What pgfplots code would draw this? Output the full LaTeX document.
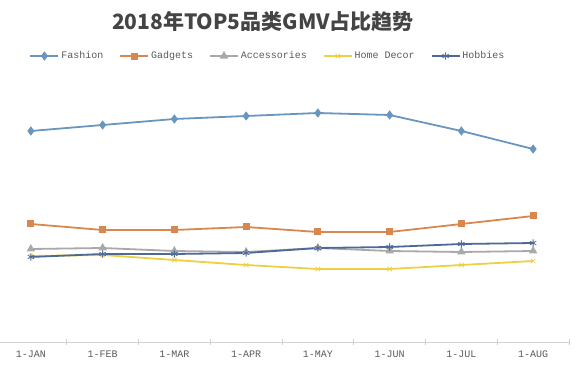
\documentclass[border=0pt]{standalone}
\usepackage{fontspec}
\setmainfont{Liberation Sans}
\newfontfamily\cjk{Noto Sans CJK SC}
\newfontfamily\mono{Liberation Mono}
\usepackage{pgfplots}
\pgfplotsset{compat=1.18}
\definecolor{cFash}{HTML}{6A96BE}
\definecolor{cGadg}{HTML}{D8874E}
\definecolor{cAcc}{HTML}{A9A9A9}
\definecolor{cHome}{HTML}{EDD043}
\definecolor{cHob}{HTML}{4C6A96}
\definecolor{cTxt}{HTML}{5A5A5A}
\definecolor{cTitle}{HTML}{444444}
\begin{document}
\begin{tikzpicture}
\useasboundingbox (0,0) rectangle (584bp,371bp);
\begin{axis}[
  at={(0bp,29bp)}, anchor=south west,
  scale only axis, width=569bp, height=267bp,
  xmin=-0.43, xmax=7.5, ymin=0, ymax=26.7,
  clip=false,
  axis x line=bottom, axis y line=none,
  x axis line style={-, draw=gray!35, line width=0.8bp},
  xtick={0,...,7},
  xticklabels={1-JAN,1-FEB,1-MAR,1-APR,1-MAY,1-JUN,1-JUL,1-AUG},
  major tick length=0pt,
  extra x ticks={0.5,1.5,2.5,3.5,4.5,5.5,6.5,7.5},
  extra x tick labels={},
  extra x tick style={major tick length=5bp, tick align=center, tick style={draw=gray!40, line width=0.6bp}},
  xticklabel style={font=\mono\fontsize{10bp}{12bp}\selectfont, text=cTxt, yshift=-5bp},
  legend columns=5,
  legend cell align=left,
  legend style={at={(0.471,1.071)}, anchor=center, draw=none, fill=none,
    font=\mono\fontsize{10bp}{12bp}\selectfont, text=cTxt,
    /tikz/every even column/.append style={column sep=14bp},
    inner sep=0pt},
  legend image code/.code={\draw[mark repeat=2,mark phase=2] plot coordinates {(0bp,0bp) (14bp,0bp) (28bp,0bp)};},
  every axis plot/.append style={line width=1.8bp},
]
\addplot[color=cFash, mark=diamond*, mark size=3.2bp, mark options={solid}] coordinates {
 (0,21.1) (1,21.7) (2,22.3) (3,22.6) (4,22.9) (5,22.7) (6,21.1) (7,19.3)};
\addlegendentry{Fashion}
\addplot[color=cGadg, mark=square*, mark size=2.6bp] coordinates {
 (0,11.8) (1,11.2) (2,11.2) (3,11.5) (4,11.0) (5,11.0) (6,11.8) (7,12.6)};
\addlegendentry{Gadgets}
\addplot[color=cAcc, mark=triangle*, mark size=3.2bp] coordinates {
 (0,9.3) (1,9.4) (2,9.1) (3,9.0) (4,9.4) (5,9.1) (6,9.0) (7,9.1)};
\addlegendentry{Accessories}
\addplot[color=cHome, mark=x, mark size=3.2bp, mark options={line width=0.8bp}] coordinates {
 (0,8.6) (1,8.7) (2,8.2) (3,7.7) (4,7.3) (5,7.3) (6,7.7) (7,8.1)};
\addlegendentry{Home Decor}
\addplot[color=cHob, mark=asterisk, mark size=3.6bp, mark options={line width=0.8bp}] coordinates {
 (0,8.5) (1,8.8) (2,8.8) (3,8.9) (4,9.4) (5,9.5) (6,9.8) (7,9.9)};
\addlegendentry{Hobbies}
\end{axis}
\node[font=\cjk\bfseries\fontsize{21bp}{24bp}\selectfont, text=cTitle] at (263bp,349bp) {2018年TOP5品类GMV占比趋势};
\end{tikzpicture}
\end{document}
